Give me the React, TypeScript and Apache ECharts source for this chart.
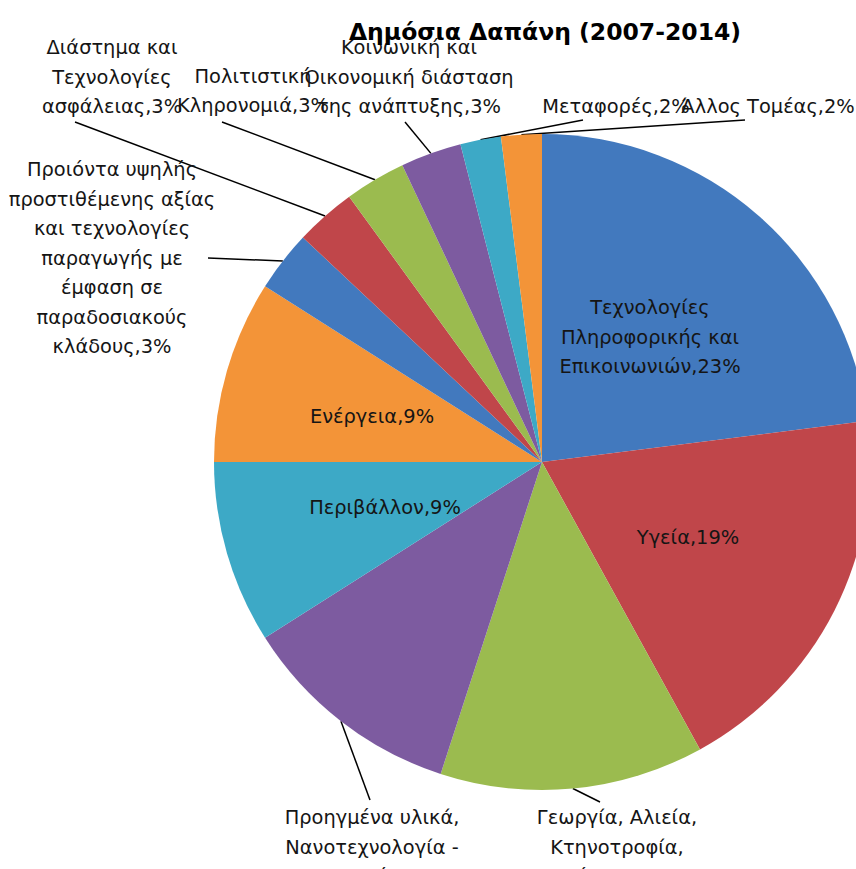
import React, { useEffect, useRef } from "react";
import * as echarts from "echarts";

const title = "Δημόσια Δαπάνη (2007-2014)";

const categories = [
  "Τεχνολογίες Πληροφορικής και Επικοινωνιών",
  "Υγεία",
  "Γεωργία, Αλιεία, Κτηνοτροφία, Τρόφιμα",
  "Προηγμένα υλικά, Νανοτεχνολογία - Νανοεπιστήμες",
  "Περιβάλλον",
  "Ενέργεια",
  "Προιόντα υψηλής προστιθέμενης αξίας και τεχνολογίες παραγωγής με έμφαση σε παραδοσιακούς κλάδους",
  "Διάστημα και Τεχνολογίες ασφάλειας",
  "Πολιτιστική Κληρονομιά",
  "Κοινωνική και Οικονομική διάσταση της ανάπτυξης",
  "Μεταφορές",
  "Άλλος Τομέας",
];

const values = [23, 19, 13, 11, 9, 9, 3, 3, 3, 3, 2, 2];

// wrapped label text (line breaks as drawn)
const wrappedNames = [
  "Τεχνολογίες\nΠληροφορικής και\nΕπικοινωνιών",
  "Υγεία",
  "Γεωργία, Αλιεία,\nΚτηνοτροφία,\nΤρόφιμα",
  "Προηγμένα υλικά,\nΝανοτεχνολογία -\nΝανοεπιστήμες",
  "Περιβάλλον",
  "Ενέργεια",
  "Προιόντα υψηλής\nπροστιθέμενης αξίας\nκαι τεχνολογίες\nπαραγωγής με\nέμφαση σε\nπαραδοσιακούς\nκλάδους",
  "Διάστημα και\nΤεχνολογίες\nασφάλειας",
  "Πολιτιστική\nΚληρονομιά",
  "Κοινωνική και\nΟικονομική διάσταση\nτης ανάπτυξης",
  "Μεταφορές",
  "Άλλος Τομέας",
];

const colors = [
  "#4279BE", "#C0464A", "#9BBB4F", "#7D5BA0", "#3DA9C6", "#F39438",
  "#4279BE", "#C0464A", "#9BBB4F", "#7D5BA0", "#3DA9C6", "#F39438",
];

const inside = [true, true, false, false, true, true, false, false, false, false, false, false];

// label block centres (layout)
const labelPos: number[][] = [
  [650, 337], [688, 537], [617, 847], [372, 847], [385, 507], [372, 416],
  [112, 258], [112, 77], [253, 91], [409, 77], [616, 106], [768, 106],
];
// where the leader line meets the label (layout)
const lineEnd: (number[] | null)[] = [
  null, null, [600, 802], [370, 800], null, null,
  [208, 258], [75, 122], [222, 122], [405, 122], [583, 120], [745, 120],
];

export default function App() {
  const ref = useRef<HTMLDivElement>(null);
  useEffect(() => {
    if (!ref.current) return;
    const chart = echarts.init(ref.current, undefined, { renderer: "svg" });
    const cx = 542, cy = 462, r = 328;
    const data = categories.map((name, i) => ({
      name,
      value: values[i],
      itemStyle: { color: colors[i] },
      label: { position: inside[i] ? "inside" : "outside" },
      labelLine: { show: !inside[i] },
    }));
    chart.setOption({
      animation: false,
      title: {
        text: title,
        left: 540,
        top: 15,
        textAlign: "center",
        textStyle: { fontFamily: "DejaVu Sans", fontSize: 23.5, fontWeight: "bold", color: "#000" },
      },
      series: [
        {
          type: "pie",
          center: [cx, cy],
          radius: r,
          startAngle: 90,
          clockwise: true,
          avoidLabelOverlap: false,
          data,
          label: {
            formatter: (p: any) => wrappedNames[p.dataIndex] + "," + p.value + "%",
            fontFamily: "DejaVu Sans",
            fontSize: 19.4,
            lineHeight: 29.5,
            color: "#151515",
            align: "center",
          },
          labelLine: { show: true, lineStyle: { color: "#000", width: 1.5 } },
          labelLayout: (params: any) => {
            const i = params.dataIndex;
            const [x, y] = labelPos[i];
            const res: any = { x, y, align: "center", verticalAlign: "middle" };
            const e = lineEnd[i];
            if (e) {
              const frac = (values.slice(0, i).reduce((a, b) => a + b, 0) + values[i] / 2) / values.reduce((a, b) => a + b, 0);
              const ang = frac * Math.PI * 2;
              const p0 = params.labelLinePoints && params.labelLinePoints[0]
                ? params.labelLinePoints[0]
                : [cx + r * Math.sin(ang), cy - r * Math.cos(ang)];
              res.labelLinePoints = [p0, e, e];
            }
            return res;
          },
        },
      ],
    });
    return () => chart.dispose();
  }, []);
  return (
    <div
      ref={ref}
      style={{ position: "fixed", left: 0, top: 0, width: 856, height: 869, background: "#fff" }}
    />
  );
}
